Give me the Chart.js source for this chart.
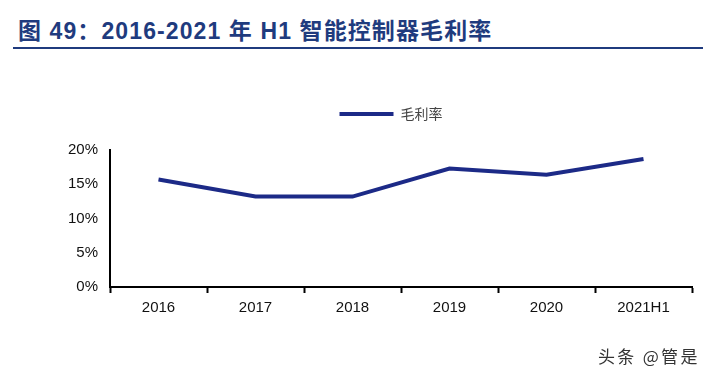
<!DOCTYPE html>
<html>
<head>
<meta charset="utf-8">
<script src="https://cdn.jsdelivr.net/npm/chart.js@4"></script>
<style>
    body { margin: 0; background: #fff; }
    #wrap { position: relative; width: 703px; height: 380px; overflow: hidden; }
    #title {
        position: absolute; left: 18px; top: 12px;
        font: bold 23px "Liberation Sans", "Noto Sans CJK SC", sans-serif;
        color: #1f3b7e; letter-spacing: 1.1px; white-space: nowrap;
    }
    #rule { position: absolute; left: 13px; top: 47px; width: 690px; height: 2px; background: #1f3b7e; }
    #mark {
        position: absolute; left: 598px; top: 343px;
        font: 17px "Noto Sans CJK SC", sans-serif; color: #333; letter-spacing: 2.3px;
    }
    canvas { position: absolute; left: 0; top: 0; }
</style>
</head>
<body>
<div id="wrap">
    <div id="title">图 49：2016-2021 年 H1 智能控制器毛利率</div>
    <div id="rule"></div>
    <canvas id="chart" width="703" height="380"></canvas>
    <div id="mark">头条 @管是</div>
</div>
<script>
const categories = ['2016', '2017', '2018', '2019', '2020', '2021H1'];
const grossMargin = [15.7, 13.2, 13.2, 17.3, 16.4, 18.7];
const yTicks = [0, 5, 10, 15, 20];
const seriesName = '毛利率';

const lineColor = '#1c2a87';

// the legend in the original sits right of centre and well above the plot
const shiftLegend = {
    id: 'shiftLegend',
    afterLayout(chart) {
        const lg = chart.legend;
        lg.left += 45;
        lg.right += 45;
        lg.top -= 19;
        lg.bottom -= 19;
    }
};

new Chart(document.getElementById('chart'), {
    type: 'line',
    data: {
        labels: categories,
        datasets: [{
            label: seriesName,
            data: grossMargin,
            borderColor: lineColor,
            backgroundColor: lineColor,
            borderWidth: 4,
            pointRadius: 0,
            tension: 0
        }]
    },
    plugins: [shiftLegend],
    options: {
        responsive: false,
        animation: false,
        layout: { padding: { top: 114, left: 0, right: 11, bottom: 0 } },
        plugins: {
            legend: {
                display: true,
                labels: {
                    usePointStyle: true,
                    pointStyle: 'line',
                    pointStyleWidth: 54,
                    boxHeight: 4,
                    color: '#444',
                    font: { family: '"Noto Sans CJK SC", sans-serif', size: 14 },
                    padding: 12
                }
            },
            tooltip: { enabled: false }
        },
        scales: {
            x: {
                offset: true,
                grid: {
                    offset: true,
                    display: true,
                    drawOnChartArea: false,
                    drawTicks: true,
                    tickLength: 6,
                    tickWidth: 2,
                    color: '#000'
                },
                border: { display: true, color: '#000', width: 2 },
                ticks: {
                    color: '#111',
                    padding: 6,
                    maxRotation: 0,
                    font: { family: '"Liberation Sans", Arial, sans-serif', size: 15 }
                },
                afterFit: s => { s.height = 93; }
            },
            y: {
                min: 0,
                max: 20,
                afterBuildTicks: s => { s.ticks = yTicks.map(v => ({ value: v })); },
                grid: { display: false, drawTicks: false },
                border: { display: true, color: '#000', width: 2 },
                ticks: {
                    color: '#111',
                    padding: 12,
                    font: { family: '"Liberation Sans", Arial, sans-serif', size: 15 },
                    callback: v => v + '%'
                },
                afterFit: s => { s.width = 110; }
            }
        }
    }
});
</script>
</body>
</html>
